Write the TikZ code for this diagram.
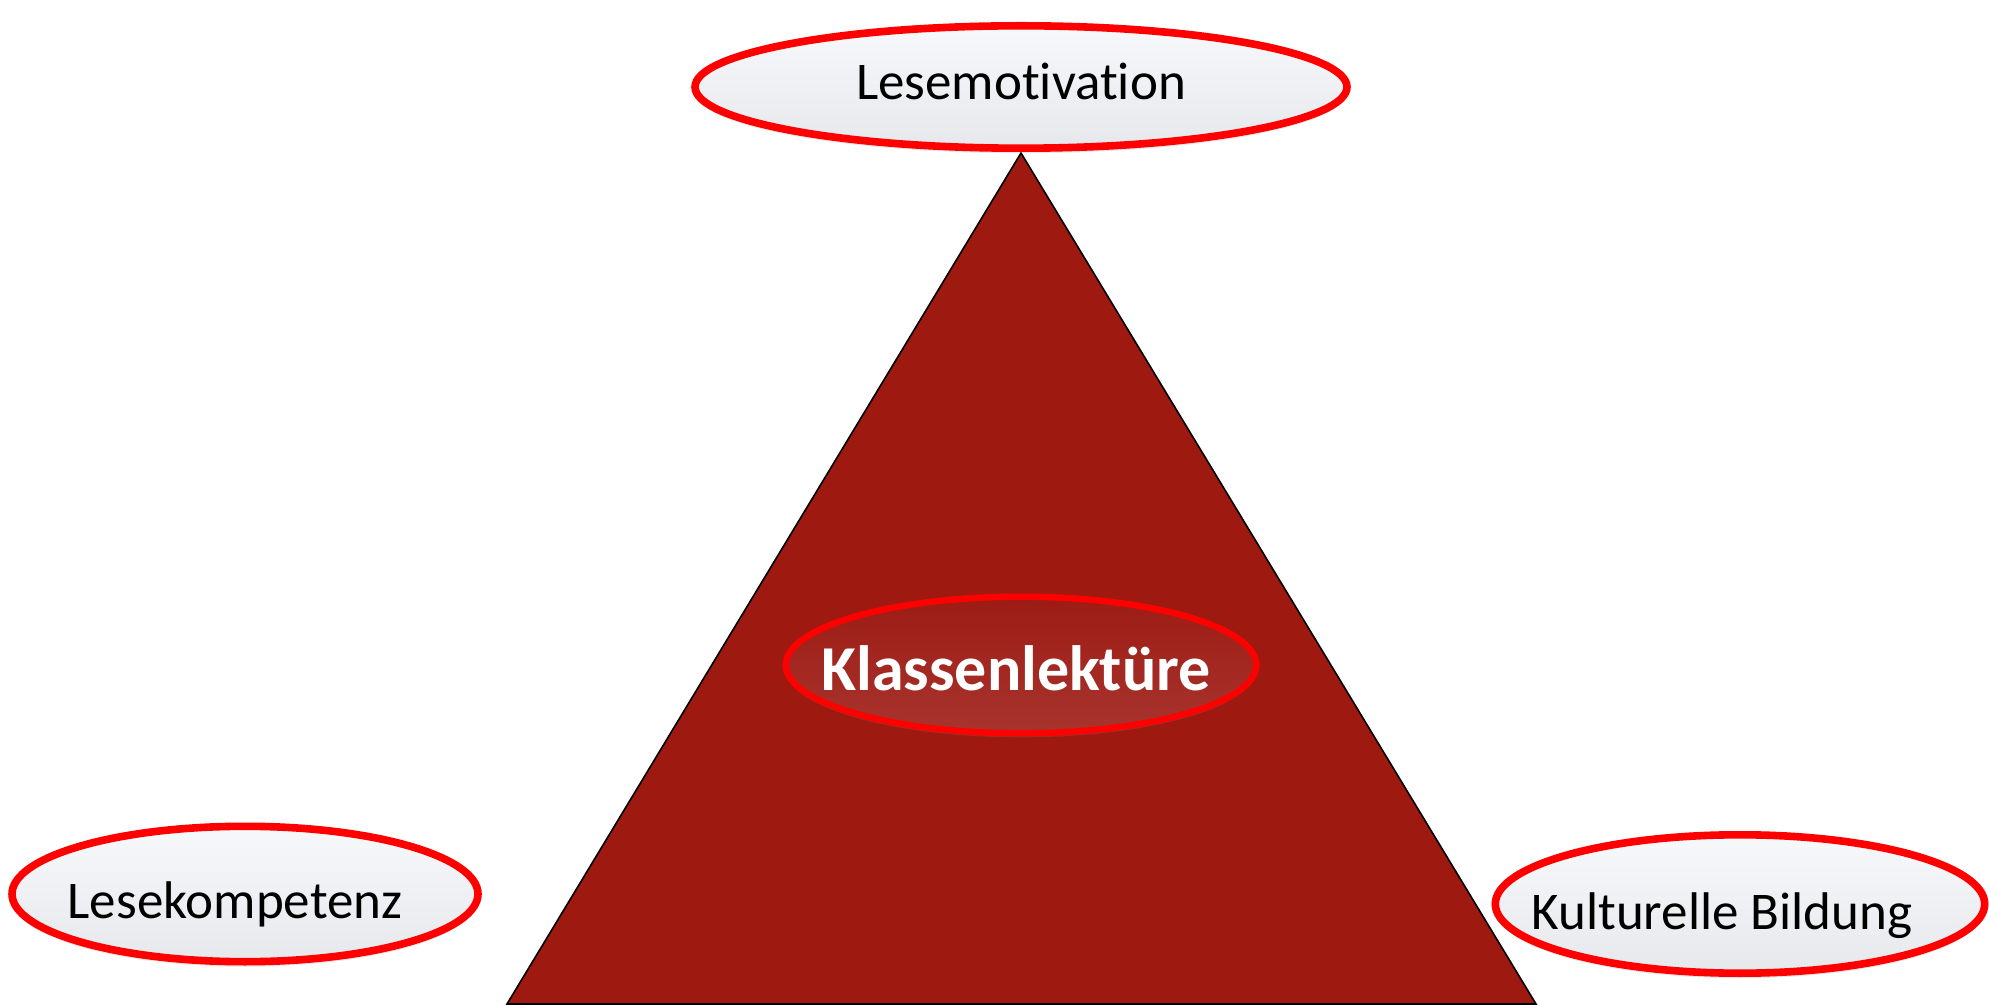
\documentclass[tikz,border=0pt]{standalone}
\usepackage{fontspec}
\setmainfont{Carlito}[Ligatures={NoCommon}]
\usetikzlibrary{shapes.geometric,shadows}
\definecolor{trired}{RGB}{158,26,17}
\definecolor{ringred}{RGB}{255,0,0}
\definecolor{lighttop}{RGB}{247,248,250}
\definecolor{lightbot}{RGB}{230,232,236}
\definecolor{innertop}{RGB}{156,28,20}
\definecolor{innerbot}{RGB}{168,52,46}
\tikzset{
  bubble/.style={ellipse, draw=ringred, line width=3.8pt, inner sep=0pt,
    top color=lighttop, bottom color=lightbot,
    drop shadow={opacity=0.18, shadow xshift=0pt, shadow yshift=-2.5pt}},
  centerbubble/.style={ellipse, draw=ringred, line width=3.2pt, inner sep=0pt,
    top color=innertop, bottom color=innerbot,
    drop shadow={opacity=0.25, shadow xshift=0pt, shadow yshift=-2pt}},
  lbl/.style={anchor=base, inner sep=0pt, font=\fontsize{26.5pt}{30pt}\selectfont},
  clbl/.style={anchor=base, inner sep=0pt, text=white, font=\fontsize{32pt}{36pt}\selectfont\bfseries}
}
\begin{document}
\begin{tikzpicture}[x=0.5pt,y=-0.5pt]
\useasboundingbox (0,0) rectangle (1999,1005);
% triangle
\coordinate (apex) at (1021,153);
\coordinate (bl) at (507,1004);
\coordinate (br) at (1536,1004);
\filldraw[fill=trired, draw=black, line width=0.8pt, line join=miter] (bl) -- (apex) -- (br) -- cycle;
% ellipses
\node[bubble, minimum width=326pt, minimum height=61.2pt] (mot) at (1021,87) {};
\node[lbl] (motT) at (1021,100) {Lesemotivation};
\node[centerbubble, minimum width=235.3pt, minimum height=68.3pt] (kl) at (1021,665) {};
\node[clbl] (klT) at (1016,690) {Klassenlektüre};
\node[bubble, minimum width=233pt, minimum height=67.7pt] (komp) at (245,894) {};
\node[lbl] (kompT) at (235,918) {Lesekompetenz};
\node[bubble, minimum width=244.7pt, minimum height=69.2pt] (kult) at (1740,904) {};
\node[lbl] (kultT) at (1722,929) {Kulturelle Bildung};
\end{tikzpicture}
\end{document}
